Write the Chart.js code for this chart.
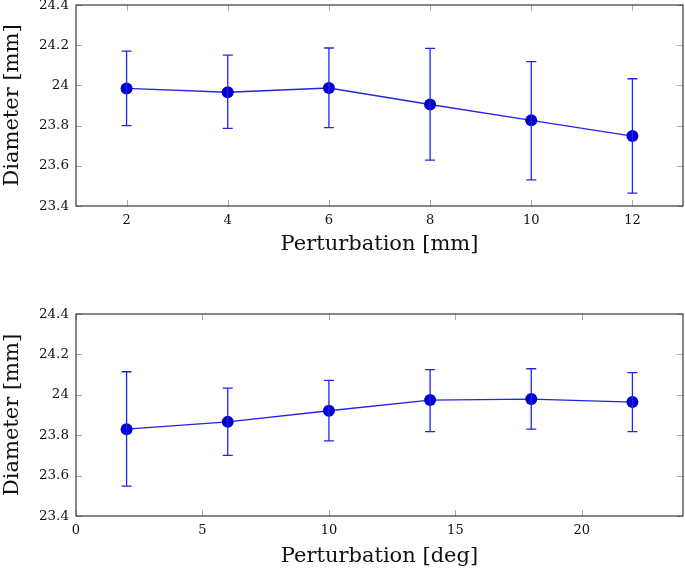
<!DOCTYPE html>
<html>
<head>
<meta charset="utf-8">
<script src="https://cdn.jsdelivr.net/npm/chart.js@4"></script>
<style>
  html, body { margin: 0; padding: 0; background: #fff; }
  body { width: 685px; height: 573px; position: relative; overflow: hidden; }
  .panel { position: absolute; left: 0; width: 685px; }
  #top-panel { top: 0; height: 272px; }
  #bottom-panel { top: 290px; height: 283px; }
</style>
</head>
<body>
<div class="panel" id="top-panel"><canvas id="chart-mm"></canvas></div>
<div class="panel" id="bottom-panel"><canvas id="chart-deg"></canvas></div>
<script>
// top panel: perturbation in mm
const mmX = [2, 4, 6, 8, 10, 12];
const mmMean = [23.985, 23.966, 23.987, 23.905, 23.826, 23.748];
const mmLow = [23.800, 23.786, 23.790, 23.628, 23.530, 23.464];
const mmHigh = [24.171, 24.151, 24.186, 24.184, 24.118, 24.033];
const mmTicks = [2, 4, 6, 8, 10, 12];

// bottom panel: perturbation in degrees
const degX = [2, 6, 10, 14, 18, 22];
const degMean = [23.830, 23.866, 23.921, 23.974, 23.979, 23.964];
const degLow = [23.548, 23.700, 23.772, 23.818, 23.830, 23.818];
const degHigh = [24.114, 24.033, 24.071, 24.125, 24.129, 24.110];
const degTicks = [0, 5, 10, 15, 20];

const yTicks = [23.4, 23.6, 23.8, 24, 24.2, 24.4];

const SERIF = "'DejaVu Serif', 'Liberation Serif', serif";
const LINE_BLUE = '#2424e6';
const MARK_BLUE = '#0000d2';

// error bars, inner tick marks and frame, drawn through the chart's scales
const errorBarPlugin = {
  id: 'errorBars',
  beforeDatasetsDraw(chart) {
    const { ctx, chartArea: a } = chart;
    const xs = chart.scales.x, ys = chart.scales.y;
    const len = 6;
    ctx.save();
    ctx.strokeStyle = '#a8a8a8';
    ctx.lineWidth = 1;
    xs.ticks.forEach(t => {
      const px = Math.round(xs.getPixelForValue(t.value)) + 0.5;
      ctx.beginPath();
      ctx.moveTo(px, a.bottom); ctx.lineTo(px, a.bottom - len);
      ctx.moveTo(px, a.top); ctx.lineTo(px, a.top + len);
      ctx.stroke();
    });
    ys.ticks.forEach(t => {
      const py = Math.round(ys.getPixelForValue(t.value)) + 0.5;
      ctx.beginPath();
      ctx.moveTo(a.left, py); ctx.lineTo(a.left + len, py);
      ctx.moveTo(a.right, py); ctx.lineTo(a.right - len, py);
      ctx.stroke();
    });
    ctx.restore();
  },
  afterDatasetsDraw(chart) {
    const { ctx } = chart;
    const xs = chart.scales.x, ys = chart.scales.y;
    const ds = chart.data.datasets[0];
    ctx.save();
    ctx.strokeStyle = LINE_BLUE;
    ctx.lineWidth = 1.3;
    ds.data.forEach((p, i) => {
      const px = xs.getPixelForValue(p.x);
      const lo = ys.getPixelForValue(ds.errLow[i]);
      const hi = ys.getPixelForValue(ds.errHigh[i]);
      ctx.beginPath();
      ctx.moveTo(px, lo); ctx.lineTo(px, hi);
      ctx.moveTo(px - 5, lo); ctx.lineTo(px + 5, lo);
      ctx.moveTo(px - 5, hi); ctx.lineTo(px + 5, hi);
      ctx.stroke();
    });
    ctx.restore();
  },
  afterDraw(chart) {
    const { ctx, chartArea: a } = chart;
    ctx.save();
    ctx.strokeStyle = '#3a3a3a';
    ctx.lineWidth = 1.2;
    ctx.strokeRect(a.left, a.top, a.right - a.left, a.bottom - a.top);
    ctx.restore();
  },
};

function makeChart(id, xs, mean, low, high, xTicks, xMin, xMax, xTitle, opts) {
  const points = xs.map((x, i) => ({ x, y: mean[i] }));
  return new Chart(document.getElementById(id), {
    type: 'line',
    data: {
      datasets: [{
        data: points,
        errLow: low,
        errHigh: high,
        borderColor: LINE_BLUE,
        borderWidth: 1.3,
        backgroundColor: MARK_BLUE,
        pointBackgroundColor: MARK_BLUE,
        pointBorderColor: MARK_BLUE,
        pointRadius: 6,
        pointBorderWidth: 0,
        tension: 0,
        clip: false,
      }],
    },
    options: {
      responsive: true,
      maintainAspectRatio: false,
      animation: false,
      layout: {
        autoPadding: false,
        padding: { top: opts.padTop, right: 2, left: 0, bottom: opts.padBottom },
      },
      plugins: { legend: { display: false }, tooltip: { enabled: false } },
      scales: {
        x: {
          type: 'linear',
          min: xMin,
          max: xMax,
          border: { display: false },
          grid: { display: false, drawTicks: false },
          afterBuildTicks: s => { s.ticks = xTicks.map(v => ({ value: v })); },
          afterFit: s => { s.height = opts.xAxisHeight; s.paddingLeft = 0; s.paddingRight = 0; },
          ticks: {
            color: '#111',
            padding: 7,
            maxRotation: 0,
            autoSkip: false,
            font: { family: SERIF, size: 13 },
            callback: v => String(v),
          },
          title: {
            display: true,
            text: xTitle,
            color: '#111',
            padding: { top: 0, bottom: 0 },
            font: { family: SERIF, size: 21 },
          },
        },
        y: {
          type: 'linear',
          min: 23.4,
          max: 24.4,
          border: { display: false },
          grid: { display: false, drawTicks: false },
          afterBuildTicks: s => { s.ticks = yTicks.map(v => ({ value: v })); },
          afterFit: s => { s.width = 76; s.paddingTop = 0; s.paddingBottom = 0; },
          ticks: {
            color: '#111',
            padding: 7,
            autoSkip: false,
            font: { family: SERIF, size: 13.5 },
            callback: v => String(+v.toFixed(1)),
          },
          title: {
            display: true,
            text: 'Diameter [mm]',
            color: '#111',
            padding: { top: 0, bottom: 4 },
            font: { family: SERIF, size: 21 },
          },
        },
      },
    },
    plugins: [errorBarPlugin],
  });
}

makeChart('chart-mm', mmX, mmMean, mmLow, mmHigh, mmTicks, 1, 13,
  'Perturbation [mm]', { padTop: 5, padBottom: 15, xAxisHeight: 51 });
makeChart('chart-deg', degX, degMean, degLow, degHigh, degTicks, 0, 24,
  'Perturbation [deg]', { padTop: 24, padBottom: 4, xAxisHeight: 53 });
</script>
</body>
</html>
